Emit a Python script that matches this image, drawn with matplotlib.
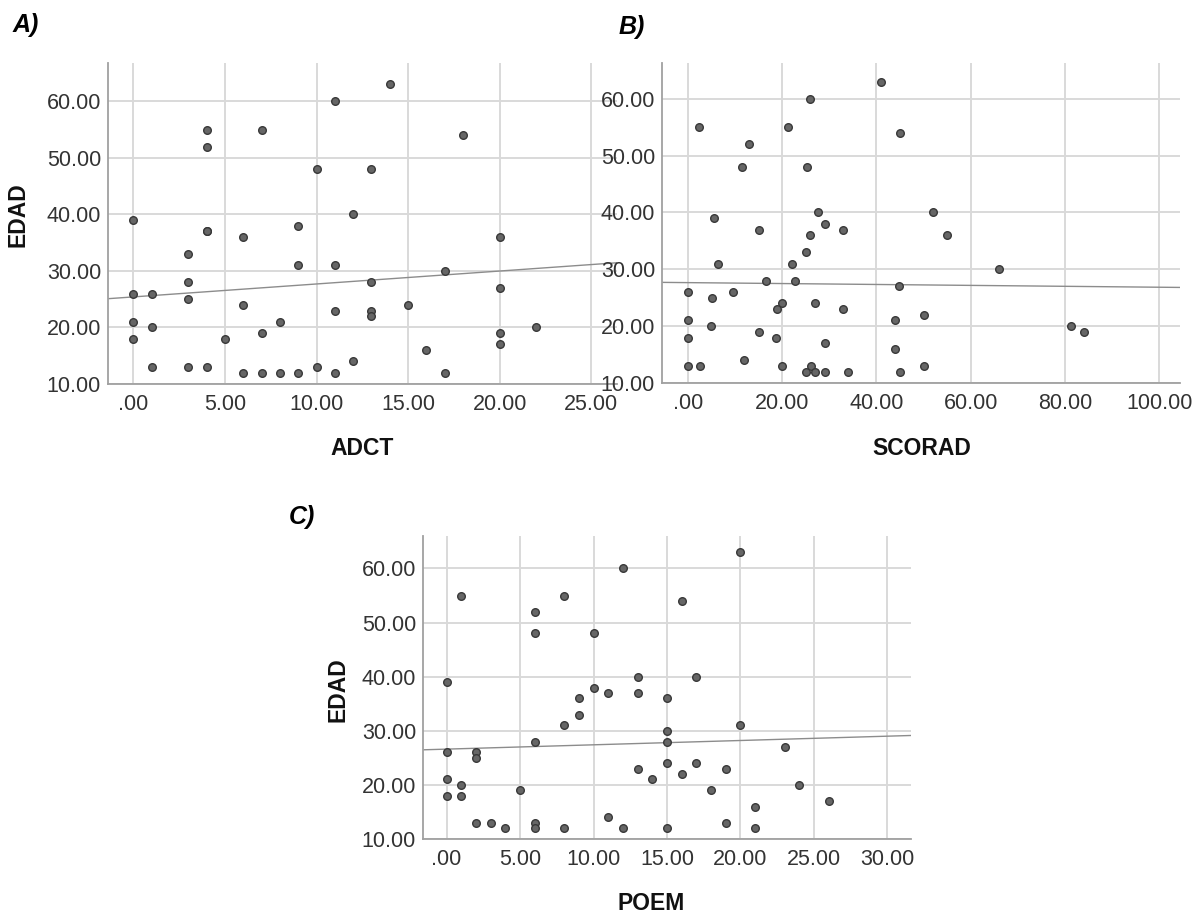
import numpy as np
import matplotlib
matplotlib.use("Agg")
from matplotlib import pyplot as plt
from matplotlib.ticker import FuncFormatter

plt.rcParams['font.family'] = ['Liberation Sans', 'DejaVu Sans']

# Panel A: ADCT vs EDAD
adct_x = [0, 0, 1, 0, 1, 0, 1, 3, 3, 3, 3, 4, 4, 4, 4, 4, 5, 6, 6, 6, 7, 7, 7, 8, 8,
          9, 9, 9, 10, 10, 11, 11, 11, 11, 12, 12, 14, 18, 13, 20, 17, 13, 20, 15, 13,
          13, 22, 20, 20, 16, 17]
adct_y = [39, 26, 26, 21, 20, 18, 13, 33, 28, 25, 13, 55, 52, 37, 37, 13, 18, 36, 24, 12, 55, 19, 12, 21, 12,
          38, 31, 12, 48, 13, 60, 31, 23, 12, 40, 14, 63, 54, 48, 36, 30, 28, 27, 24, 23,
          22, 20, 19, 17, 16, 12]

# Panel B: SCORAD vs EDAD
scorad_x = [41, 26, 2.3, 21.2, 45, 13, 11.5, 25.2, 5.5, 27.5, 29, 15, 33, 26, 25, 6.3, 22,
            16.5, 22.7, 44.8, 0, 9.5, 5.1, 20, 27, 19, 33, 0, 44, 4.8, 15, 18.6, 0, 29,
            44, 0, 2.5, 12, 20, 26.2, 25, 27, 29, 34, 45, 50, 50, 52, 55, 66, 81.3, 84]
scorad_y = [63, 60, 55, 55, 54, 52, 48, 48, 39, 40, 38, 37, 37, 36, 33, 31, 31,
            28, 28, 27, 26, 26, 25, 24, 24, 23, 23, 21, 21, 20, 19, 18, 18, 17,
            16, 13, 13, 14, 13, 13, 12, 12, 12, 12, 12, 22, 13, 40, 36, 30, 20, 19]

# Panel C: POEM vs EDAD
poem_x = [1, 0, 0, 0, 0, 1, 1, 2, 2, 2, 3, 4, 5, 6, 6, 6, 6, 6, 8, 8, 8, 9, 9, 10, 10,
          11, 11, 12, 12, 13, 13, 13, 14, 20, 16, 17, 15, 15, 20, 15, 23, 15, 17, 16, 19,
          18, 24, 26, 21, 19, 21, 15]
poem_y = [55, 39, 26, 21, 18, 20, 18, 26, 25, 13, 13, 12, 19, 52, 48, 28, 13, 12, 55, 31, 12, 36, 33, 48, 38,
          37, 14, 60, 12, 40, 37, 23, 21, 63, 54, 40, 36, 30, 31, 28, 27, 24, 24, 22, 23,
          19, 20, 17, 16, 13, 12, 12]

# fit lines as drawn in the picture (intercept, slope)
fit_a = (25.41, 0.229)
fit_b = (27.66, -0.0081)
fit_c = (26.61, 0.0798)

x_ticks_a = [0, 5, 10, 15, 20, 25]
x_ticks_b = [0, 20, 40, 60, 80, 100]
x_ticks_c = [0, 5, 10, 15, 20, 25, 30]
y_ticks = [10, 20, 30, 40, 50, 60]


def spss_fmt(v, pos):
    s = f"{v:.2f}"
    if s.startswith("0."):
        s = s[1:]
    return s


def panel(rect, x, y, fit, xticks, xlim, ylim):
    ax = fig.add_axes(rect)
    ax.set_xlim(xlim)
    ax.set_ylim(ylim)
    ax.set_xticks(xticks)
    ax.set_yticks(y_ticks)
    ax.xaxis.set_major_formatter(FuncFormatter(spss_fmt))
    ax.yaxis.set_major_formatter(FuncFormatter(spss_fmt))
    ax.grid(True, color='#d9d9d9', linewidth=1.4)
    ax.set_axisbelow(True)
    for s in ['top', 'right']:
        ax.spines[s].set_visible(False)
    for s in ['left', 'bottom']:
        ax.spines[s].set_color('#a0a0a0')
        ax.spines[s].set_linewidth(1.3)
    ax.tick_params(length=0, labelsize=15.5, labelcolor='#333333')
    ax.tick_params(axis='x', pad=7)
    ax.tick_params(axis='y', pad=5)
    ax.scatter(x, y, s=30, facecolor='#666666', edgecolor='#383838', linewidth=1, zorder=3)
    xx = np.array(xlim)
    ax.plot(xx, fit[0] + fit[1] * xx, color='#8c8c8c', linewidth=1, zorder=2)
    return ax


fig = plt.figure(figsize=(11.98, 9.23), dpi=100)

panel([108 / 1198, 1 - 384 / 923, 509 / 1198, 321 / 923], adct_x, adct_y, fit_a,
      x_ticks_a, (-1.38, 26.4), (10, 66.8))
panel([662 / 1198, 1 - 383 / 923, 518 / 1198, 320 / 923], scorad_x, scorad_y, fit_b,
      x_ticks_b, (-5.5, 104.4), (10, 66.3))
panel([423 / 1198, 1 - 839 / 923, 488 / 1198, 303 / 923], poem_x, poem_y, fit_c,
      x_ticks_c, (-1.6, 31.6), (10, 66.0))

lab = dict(fontsize=16.5, fontweight='bold', color='#111111', ha='center', va='center')
fig.text(362 / 1198, 1 - 448 / 923, "ADCT", **lab)
fig.text(922 / 1198, 1 - 448 / 923, "SCORAD", **lab)
fig.text(651 / 1198, 1 - 903 / 923, "POEM", **lab)
fig.text(18 / 1198, 1 - 215 / 923, "EDAD", rotation=90, **lab)
fig.text(338 / 1198, 1 - 690 / 923, "EDAD", rotation=90, **lab)

pl = dict(fontsize=18, fontweight='bold', fontstyle='italic', color='#000000', ha='left', va='center')
fig.text(13 / 1198, 1 - 25 / 923, "A)", **pl)
fig.text(619 / 1198, 1 - 27 / 923, "B)", **pl)
fig.text(289 / 1198, 1 - 517 / 923, "C)", **pl)

fig.savefig("out.png", dpi=100)
